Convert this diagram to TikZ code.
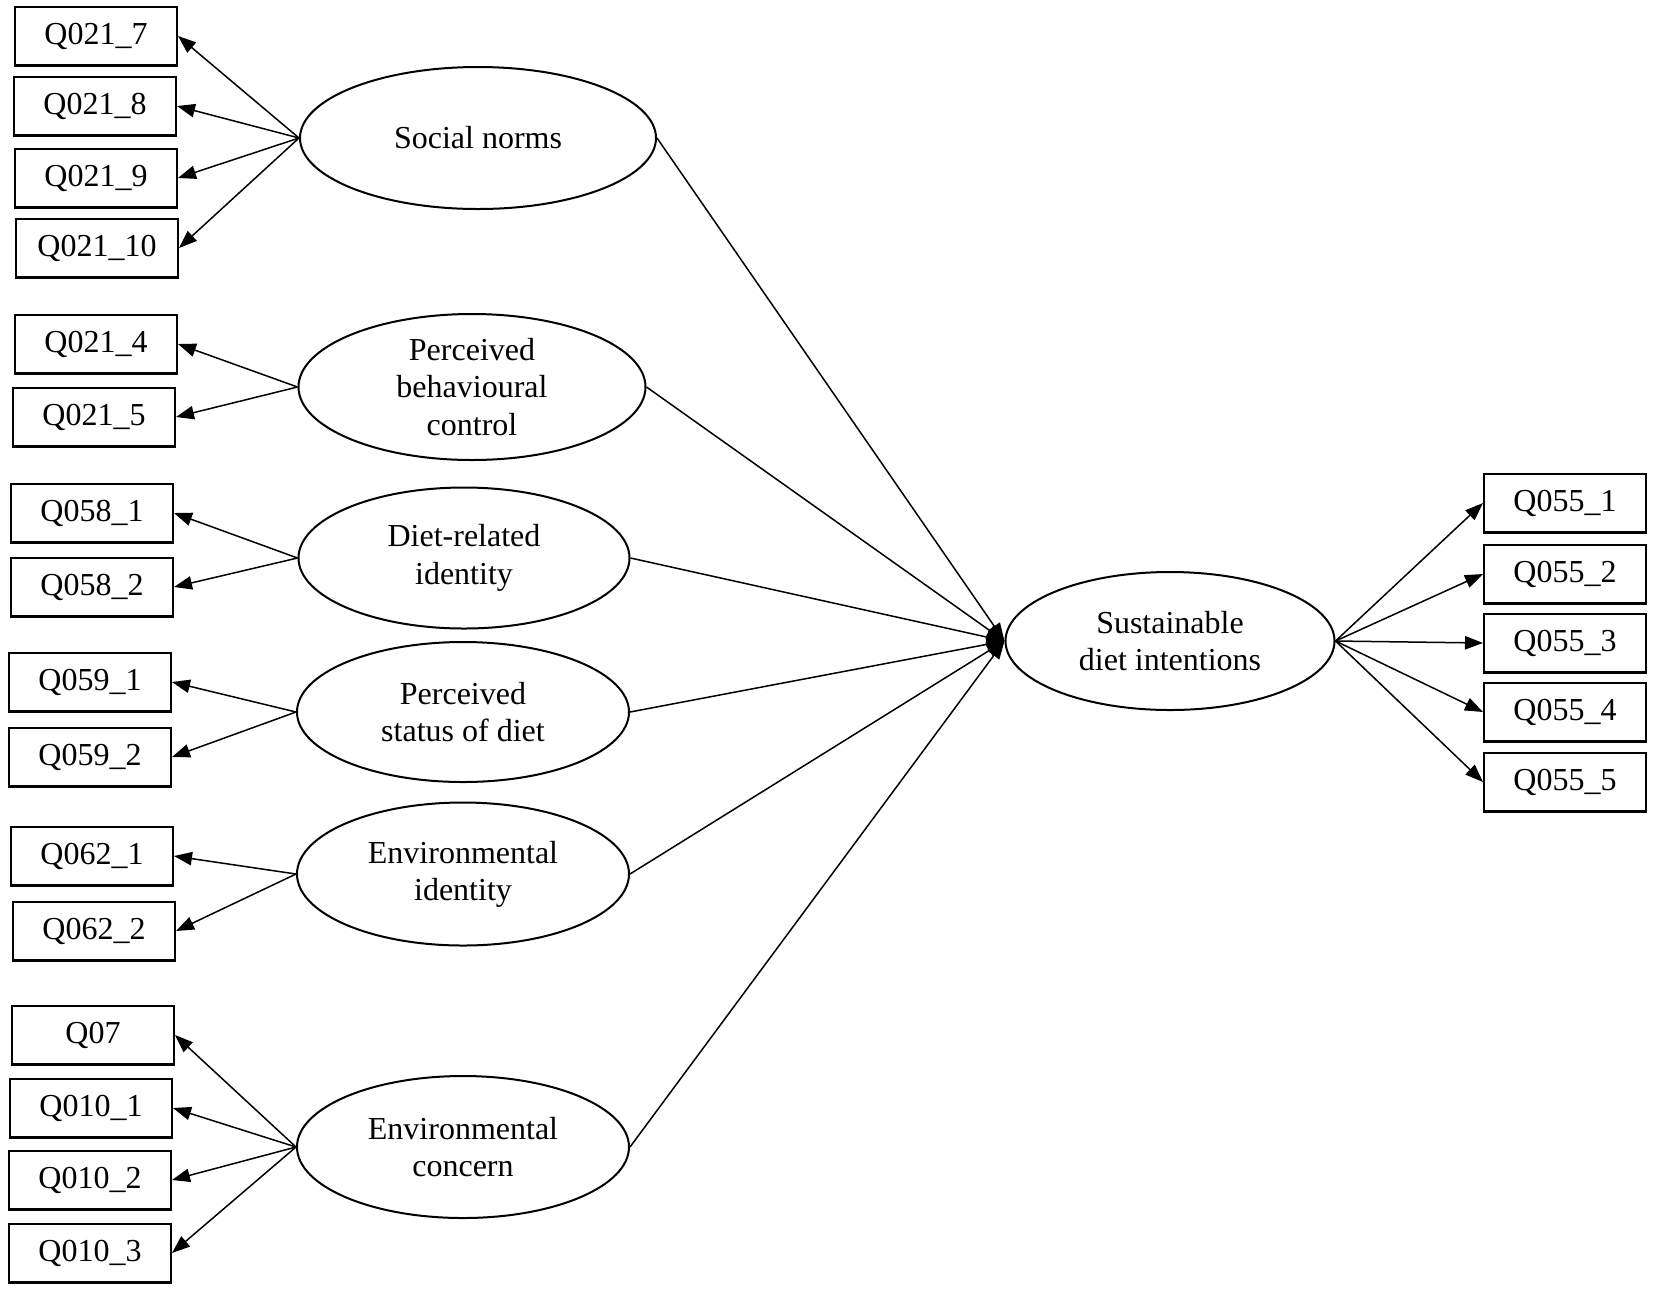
\documentclass[tikz,border=0pt]{standalone}
\usepackage{fontspec}
\setmainfont{Liberation Serif}
\usepackage{tikz}
\usetikzlibrary{shapes.geometric}
\usetikzlibrary{arrows.meta}
\tikzstyle{item} = [draw=black, line width=0.7pt, rectangle, minimum width=48.5pt,
minimum height=17.6pt, inner sep=0pt, font=\fontsize{9.6}{11.2}\selectfont]
\tikzstyle{latent} = [draw=black, line width=0.6pt, ellipse, inner sep=0pt,
align=center, font=\fontsize{9.6}{11.2}\selectfont]
\tikzstyle{load} = [line width=0.45pt, -{Triangle[length=5.4pt, width=4pt]}]

\begin{document}
\begin{tikzpicture}[x=0.3pt, y=-0.3pt]
        \useasboundingbox (0,0) rectangle (1654,1290);
        % latent factors
        \node [latent, minimum width=106.8pt, minimum height=42.6pt] (sn) at (478,138) {Social norms};
        \node [latent, minimum width=104.1pt, minimum height=43.8pt] (pbc) at (472,387) {Perceived\\behavioural\\control};
        \node [latent, minimum width=99.3pt, minimum height=42.3pt] (dri) at (464,558) {Diet-related\\identity};
        \node [latent, minimum width=99.6pt, minimum height=42pt] (psd) at (463,712) {Perceived\\status of diet};
        \node [latent, minimum width=99.6pt, minimum height=42.9pt] (eid) at (463,874) {Environmental\\identity};
        \node [latent, minimum width=99.6pt, minimum height=42.6pt] (ec) at (463,1147) {Environmental\\concern};
        \node [latent, minimum width=98.7pt, minimum height=41.4pt] (sdi) at (1170,641) {Sustainable\\diet intentions};
        % indicators
        \node [item] (q21-7) at (96,36) {Q021\_7};
        \node [item] (q21-8) at (95,106) {Q021\_8};
        \node [item] (q21-9) at (96,178) {Q021\_9};
        \node [item] (q21-10) at (97,248) {Q021\_10};
        \node [item] (q21-4) at (96,344) {Q021\_4};
        \node [item] (q21-5) at (94,417) {Q021\_5};
        \node [item] (q58-1) at (92,513) {Q058\_1};
        \node [item] (q58-2) at (92,587) {Q058\_2};
        \node [item] (q59-1) at (90,682) {Q059\_1};
        \node [item] (q59-2) at (90,757) {Q059\_2};
        \node [item] (q62-1) at (92,856) {Q062\_1};
        \node [item] (q62-2) at (94,931) {Q062\_2};
        \node [item] (q7) at (93,1035) {Q07};
        \node [item] (q10-1) at (91,1108) {Q010\_1};
        \node [item] (q10-2) at (90,1180) {Q010\_2};
        \node [item] (q10-3) at (90,1253) {Q010\_3};
        \node [item] (q55-1) at (1565,503) {Q055\_1};
        \node [item] (q55-2) at (1565,574) {Q055\_2};
        \node [item] (q55-3) at (1565,643) {Q055\_3};
        \node [item] (q55-4) at (1565,712) {Q055\_4};
        \node [item] (q55-5) at (1565,782) {Q055\_5};
        % loadings
        \foreach \q in {q21-7,q21-8,q21-9,q21-10} \draw [load] (sn.west) -- (\q.east);
        \foreach \q in {q21-4,q21-5} \draw [load] (pbc.west) -- (\q.east);
        \foreach \q in {q58-1,q58-2} \draw [load] (dri.west) -- (\q.east);
        \foreach \q in {q59-1,q59-2} \draw [load] (psd.west) -- (\q.east);
        \foreach \q in {q62-1,q62-2} \draw [load] (eid.west) -- (\q.east);
        \foreach \q in {q7,q10-1,q10-2,q10-3} \draw [load] (ec.west) -- (\q.east);
        \foreach \q in {q55-1,q55-2,q55-3,q55-4,q55-5} \draw [load] (sdi.east) -- (\q.west);
        % paths
        \foreach \f in {sn,pbc,dri,psd,eid,ec} \draw [load] (\f.east) -- (sdi.west);
    \end{tikzpicture}
\end{document}
